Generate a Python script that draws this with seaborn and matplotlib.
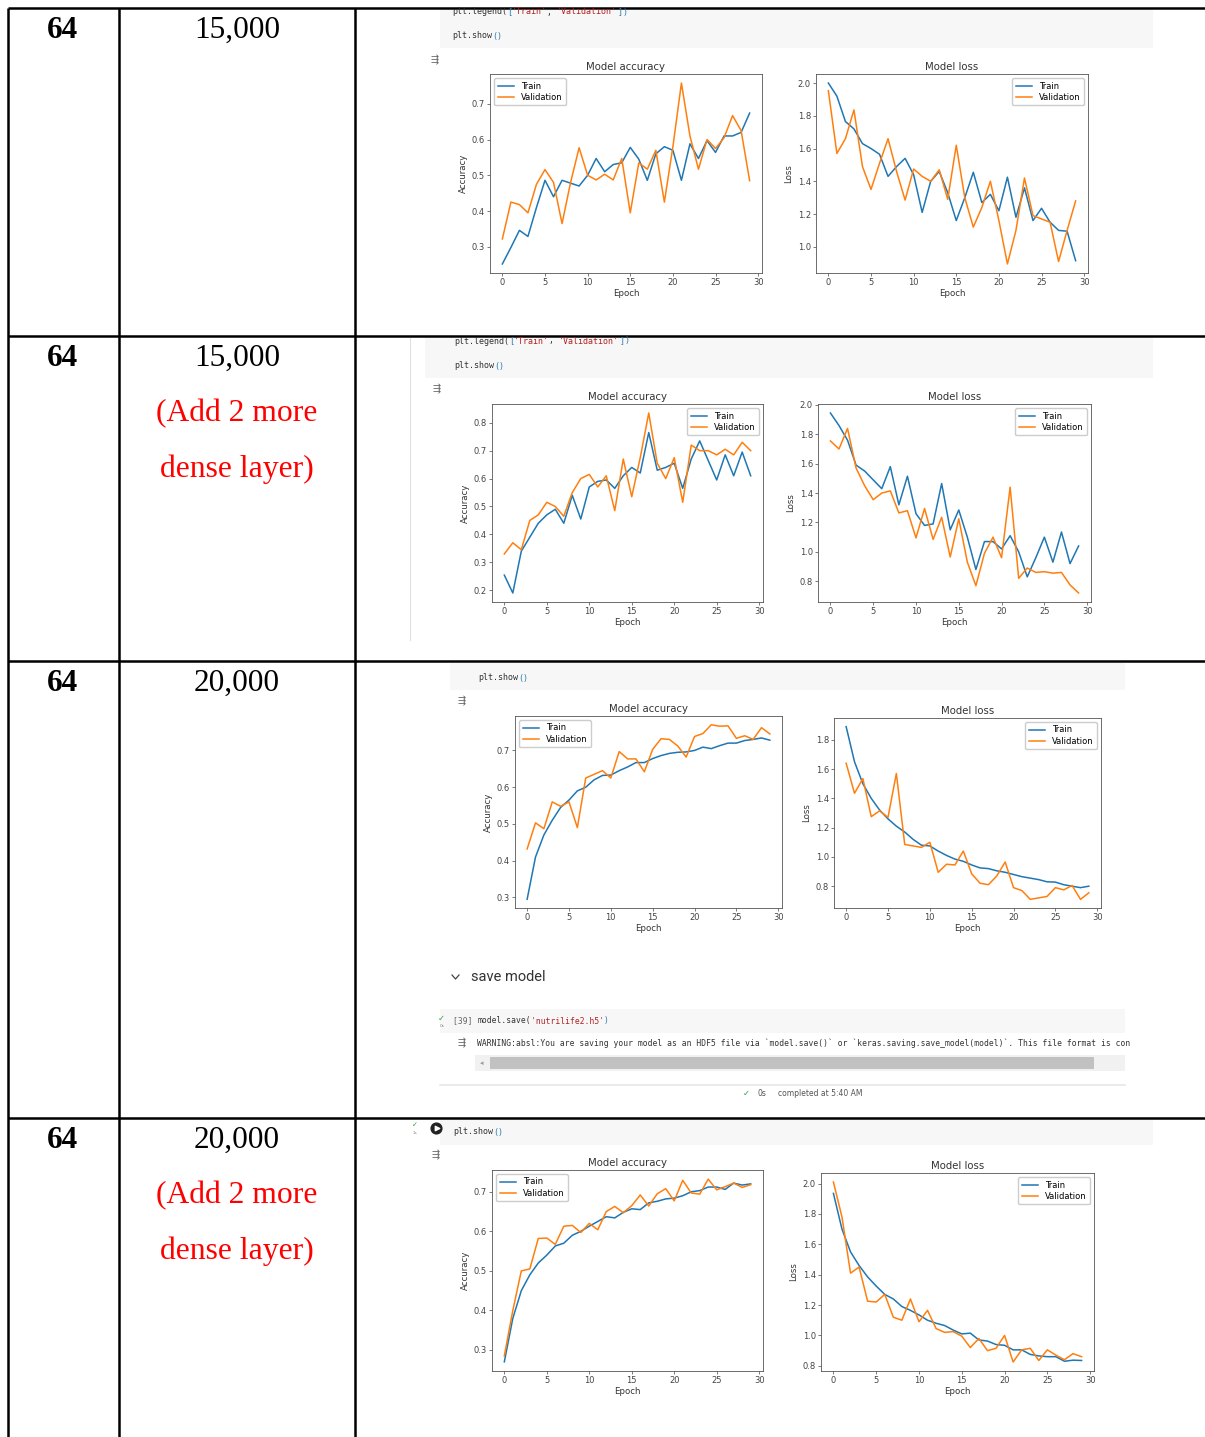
import matplotlib
matplotlib.use('Agg')
import matplotlib.pyplot as plt
import seaborn as sns

W, H = 1205, 1437
epochs = list(range(30))

# Row 1: batch 64, 15,000 samples
acc1_train = [0.252, 0.298, 0.346, 0.329, 0.41, 0.486, 0.44, 0.486, 0.478, 0.47,
              0.50, 0.547, 0.51, 0.53, 0.535, 0.578, 0.545, 0.486, 0.56, 0.58,
              0.57, 0.486, 0.588, 0.547, 0.597, 0.564, 0.61, 0.61, 0.62, 0.674]
acc1_val = [0.322, 0.425, 0.418, 0.395, 0.475, 0.516, 0.48, 0.365, 0.48, 0.577,
            0.50, 0.487, 0.503, 0.487, 0.547, 0.395, 0.535, 0.517, 0.57, 0.425,
            0.58, 0.758, 0.61, 0.517, 0.60, 0.575, 0.605, 0.667, 0.625, 0.485]
loss1_train = [2.0, 1.92, 1.765, 1.72, 1.63, 1.60, 1.565, 1.43, 1.49, 1.54,
               1.44, 1.21, 1.40, 1.46, 1.33, 1.16, 1.30, 1.455, 1.27, 1.32,
               1.22, 1.425, 1.18, 1.36, 1.16, 1.235, 1.15, 1.10, 1.095, 0.915]
loss1_val = [1.953, 1.57, 1.66, 1.836, 1.49, 1.35, 1.51, 1.66, 1.46, 1.285,
             1.475, 1.43, 1.40, 1.47, 1.29, 1.62, 1.30, 1.12, 1.24, 1.40,
             1.16, 0.895, 1.10, 1.42, 1.19, 1.17, 1.15, 0.91, 1.10, 1.28]

# Row 2: 15,000 + 2 dense layers
acc2_train = [0.254, 0.19, 0.34, 0.39, 0.44, 0.47, 0.49, 0.44, 0.54, 0.455,
              0.57, 0.59, 0.595, 0.565, 0.61, 0.64, 0.62, 0.765, 0.63, 0.64,
              0.655, 0.565, 0.67, 0.735, 0.665, 0.595, 0.685, 0.61, 0.695, 0.61]
acc2_val = [0.33, 0.37, 0.345, 0.45, 0.47, 0.515, 0.50, 0.465, 0.55, 0.60,
            0.615, 0.57, 0.61, 0.485, 0.67, 0.535, 0.675, 0.835, 0.655, 0.60,
            0.675, 0.515, 0.72, 0.70, 0.70, 0.685, 0.705, 0.685, 0.73, 0.70]
loss2_train = [1.945, 1.86, 1.76, 1.59, 1.55, 1.49, 1.43, 1.58, 1.32, 1.515,
               1.26, 1.18, 1.19, 1.465, 1.15, 1.285, 1.10, 0.88, 1.07, 1.07,
               1.02, 1.11, 1.00, 0.83, 0.96, 1.10, 0.93, 1.135, 0.92, 1.04]
loss2_val = [1.755, 1.70, 1.84, 1.57, 1.45, 1.355, 1.40, 1.415, 1.265, 1.28,
             1.095, 1.295, 1.085, 1.235, 0.965, 1.225, 0.93, 0.77, 0.99, 1.10,
             0.96, 1.44, 0.82, 0.89, 0.86, 0.865, 0.855, 0.86, 0.775, 0.72]

# Row 3: 20,000 samples
acc3_train = [0.295, 0.41, 0.47, 0.51, 0.545, 0.565, 0.59, 0.60, 0.62, 0.632,
              0.633, 0.645, 0.655, 0.667, 0.667, 0.678, 0.686, 0.692, 0.695, 0.696,
              0.70, 0.709, 0.705, 0.713, 0.72, 0.72, 0.727, 0.73, 0.734, 0.728]
acc3_val = [0.432, 0.503, 0.487, 0.56, 0.548, 0.56, 0.49, 0.625, 0.635, 0.645,
            0.625, 0.697, 0.677, 0.677, 0.642, 0.703, 0.732, 0.73, 0.712, 0.682,
            0.738, 0.746, 0.77, 0.766, 0.767, 0.733, 0.74, 0.73, 0.762, 0.745]
loss3_train = [1.89, 1.65, 1.50, 1.40, 1.32, 1.26, 1.21, 1.17, 1.12, 1.08,
               1.075, 1.04, 1.01, 0.985, 0.97, 0.945, 0.925, 0.92, 0.905, 0.895,
               0.88, 0.865, 0.855, 0.845, 0.83, 0.828, 0.81, 0.80, 0.79, 0.80]
loss3_val = [1.64, 1.435, 1.535, 1.275, 1.315, 1.27, 1.57, 1.085, 1.075, 1.065,
             1.10, 0.895, 0.95, 0.945, 1.04, 0.885, 0.82, 0.81, 0.87, 0.965,
             0.79, 0.77, 0.71, 0.72, 0.73, 0.79, 0.775, 0.805, 0.71, 0.755]

# Row 4: 20,000 + 2 dense layers
acc4_train = [0.27, 0.38, 0.45, 0.49, 0.52, 0.54, 0.563, 0.57, 0.59, 0.60,
              0.613, 0.625, 0.637, 0.634, 0.648, 0.657, 0.655, 0.672, 0.676, 0.682,
              0.684, 0.69, 0.70, 0.703, 0.712, 0.712, 0.706, 0.722, 0.717, 0.72]
acc4_val = [0.285, 0.40, 0.50, 0.505, 0.582, 0.583, 0.567, 0.613, 0.615, 0.597,
            0.62, 0.604, 0.65, 0.663, 0.647, 0.665, 0.692, 0.664, 0.695, 0.708,
            0.677, 0.729, 0.697, 0.694, 0.732, 0.705, 0.713, 0.722, 0.711, 0.718]
loss4_train = [1.935, 1.70, 1.55, 1.46, 1.385, 1.325, 1.27, 1.24, 1.19, 1.165,
               1.135, 1.10, 1.08, 1.065, 1.035, 1.01, 1.015, 0.97, 0.963, 0.94,
               0.935, 0.905, 0.905, 0.875, 0.865, 0.86, 0.86, 0.83, 0.837, 0.835]
loss4_val = [2.01, 1.78, 1.41, 1.45, 1.225, 1.22, 1.27, 1.12, 1.10, 1.24,
             1.09, 1.165, 1.045, 1.02, 1.025, 0.995, 0.92, 0.98, 0.90, 0.915,
             1.00, 0.825, 0.905, 0.915, 0.835, 0.905, 0.87, 0.84, 0.88, 0.86]

batch_labels = ['64', '64', '64', '64']
size_labels = ['15,000', '15,000', '20,000', '20,000']
row_tops = [8, 336, 661, 1118]

fig = plt.figure(figsize=(W / 100, H / 100), dpi=100)
bg = fig.add_axes([0, 0, 1, 1])
bg.set_xlim(0, W)
bg.set_ylim(H, 0)
bg.axis('off')

MONO = 'DejaVu Sans Mono'


def code_line(x, y, parts, size=6):
    cw = 0.602 * size * 100 / 72
    for txt, col in parts:
        bg.text(x, y, txt, fontsize=size, family=MONO, color=col, va='center', ha='left')
        x += cw * len(txt)


def band(x0, x1, y0, y1, color='#f7f7f7'):
    bg.fill_between([x0, x1], y0, y1, color=color, lw=0, zorder=0)


def out_icon(x, y):
    bg.text(x, y, '\u21f6', fontsize=7, color='#666666', ha='center', va='center')


def px_axes(x0, y0, x1, y1):
    return fig.add_axes([x0 / W, 1 - y1 / H, (x1 - x0) / W, (y1 - y0) / H])


def history_panel(box, train, val, title, ylabel, loc):
    ax = px_axes(*box)
    sns.lineplot(x=epochs, y=train, ax=ax, color='#1f77b4', lw=1.1, label='Train')
    sns.lineplot(x=epochs, y=val, ax=ax, color='#ff7f0e', lw=1.1, label='Validation')
    ax.set_title(title, fontsize=7.3, color='#333333', pad=3)
    ax.set_xlabel('Epoch', fontsize=6.2, color='#333333', labelpad=1.5)
    ax.set_ylabel(ylabel, fontsize=6.2, color='#333333', labelpad=3)
    ax.set_xticks(range(0, 31, 5))
    ax.tick_params(labelsize=6, length=2.2, width=0.5, pad=1.5, colors='#444444')
    for s in ax.spines.values():
        s.set_linewidth(0.6)
        s.set_color('#555555')
    ax.legend(loc=loc, fontsize=6, handlelength=2, borderpad=0.4,
              labelspacing=0.3, framealpha=1, edgecolor='#cccccc')
    return ax


# table grid
lw_t = 1.8
for y in row_tops:
    bg.plot([8, W], [y, y], color='black', lw=lw_t, solid_capstyle='butt')
for x in [8, 119, 355]:
    bg.plot([x, x], [8, H], color='black', lw=lw_t, solid_capstyle='butt')

serif = 'Liberation Serif'
for i, top in enumerate(row_tops):
    bg.text(63, top + 30, batch_labels[i], fontsize=22.5, fontweight='bold',
            family=serif, ha='center', va='baseline')
    bg.text(237, top + 30, size_labels[i], fontsize=22.5, family=serif,
            ha='center', va='baseline')
    if i in (1, 3):
        bg.text(237, top + 85, '(Add 2 more', fontsize=22.8, family=serif,
                color='#ff0000', ha='center', va='baseline')
        bg.text(237, top + 141, 'dense layer)', fontsize=22.8, family=serif,
                color='#ff0000', ha='center', va='baseline')

dark, red_s, blue_b = '#333333', '#b22222', '#2a7ab0'
legend_code = [('plt.legend(', dark), ('[', blue_b), ("'Train'", red_s), (', ', dark),
               ("'Validation'", red_s), (']', blue_b), (')', blue_b)]
show_code = [('plt.show', dark), ('()', blue_b)]

# row 1 screenshot
band(440, 1153, 9, 48)
code_line(452, 12, legend_code)
code_line(452, 36, show_code)
out_icon(435, 60)
history_panel((490, 74, 762, 273), acc1_train, acc1_val, 'Model accuracy', 'Accuracy', 'upper left')
history_panel((816, 74, 1088, 273), loss1_train, loss1_val, 'Model loss', 'Loss', 'upper right')

# row 2 screenshot
band(425, 1153, 337, 378)
bg.plot([410, 410], [338, 640], color='#e0e0e0', lw=0.8)
code_line(454, 341, legend_code)
code_line(454, 366, show_code)
out_icon(437, 389)
history_panel((492, 404, 763, 602), acc2_train, acc2_val, 'Model accuracy', 'Accuracy', 'upper right')
history_panel((818, 404, 1091, 602), loss2_train, loss2_val, 'Model loss', 'Loss', 'upper right')

# row 3 screenshot
band(450, 1125, 663, 690)
code_line(478, 678, show_code)
out_icon(462, 701)
history_panel((515, 716, 782, 908), acc3_train, acc3_val, 'Model accuracy', 'Accuracy', 'upper left')
history_panel((834, 718, 1101, 908), loss3_train, loss3_val, 'Model loss', 'Loss', 'upper right')
bg.plot([452, 455.5, 459], [975, 979, 975], color='#444444', lw=0.9)
bg.text(471, 977, 'save model', fontsize=10.5, family='Roboto', color='#333333', va='center')
band(440, 1125, 1009, 1033)
bg.text(441, 1018, '\u2713', fontsize=6, color='#2e9e44', ha='center', va='center')
bg.text(442, 1026, '0s', fontsize=3, color='#888888', ha='center', va='center')
code_line(453, 1021, [('[39] ', '#666666'), ('model.save(', dark), ("'nutrilife2.h5'", red_s), (')', blue_b)], size=5.8)
out_icon(462, 1043)
code_line(477, 1043, [('WARNING:absl:You are saving your model as an HDF5 file via `model.save()` or '
                       '`keras.saving.save_model(model)`. This file format is con', dark)], size=5.8)
band(475, 1125, 1055, 1071, color='#f1f1f1')
band(490, 1094, 1057, 1069, color='#c1c1c1')
bg.text(482, 1063, '\u25c2', fontsize=5, color='#999999', ha='center', va='center')
bg.plot([440, 1125], [1085, 1085], color='#e6e6e6', lw=1.2)
bg.text(746, 1093, '\u2713', fontsize=6, color='#2e9e44', ha='center', va='center')
bg.text(757, 1093, '0s', fontsize=5.5, color='#555555', va='center')
bg.text(778, 1093, 'completed at 5:40 AM', fontsize=5.5, color='#555555', va='center')

# row 4 screenshot
band(440, 1153, 1120, 1145)
bg.text(415, 1125, '\u2713', fontsize=5, color='#2e9e44', ha='center', va='center')
bg.text(415, 1133, '1s', fontsize=3, color='#888888', ha='center', va='center')
bg.scatter([436], [1128], s=60, color='#222222', zorder=3)
bg.scatter([437], [1128], s=10, marker='>', color='white', zorder=4)
code_line(453, 1132, show_code)
out_icon(436, 1155)
history_panel((492, 1170, 763, 1371), acc4_train, acc4_val, 'Model accuracy', 'Accuracy', 'upper left')
history_panel((821, 1173, 1094, 1371), loss4_train, loss4_val, 'Model loss', 'Loss', 'upper right')

fig.savefig('out.png', dpi=100, facecolor='white')
